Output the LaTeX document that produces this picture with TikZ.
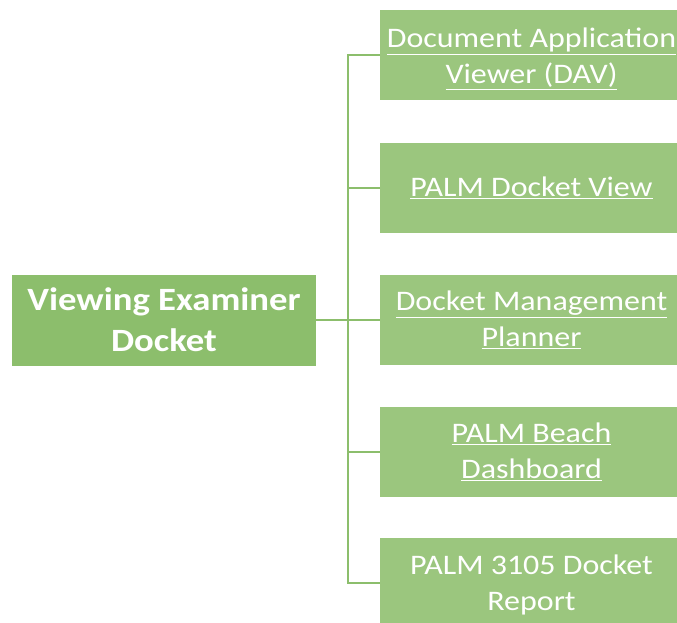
\documentclass[tikz,border=0pt]{standalone}
\usepackage{fontspec}
\setmainfont{Carlito}
\newfontfamily\widefont[FakeStretch=1.13]{Carlito}
\begin{document}
\begin{tikzpicture}[x=1pt,y=-1pt,
  leftbox/.style={fill=leftgreen, draw=none, minimum width=304pt, minimum height=91pt, inner sep=0pt, text=white, font=\widefont\fontsize{32.5}{41}\selectfont\bfseries, align=center},
  rightbox/.style={fill=rightgreen, draw=none, minimum width=303pt, minimum height=90pt, inner sep=0pt, text=white, font=\widefont\fontsize{28.3}{36}\selectfont, align=center},
  conn/.style={draw=linegreen, line width=2pt}]
\definecolor{leftgreen}{HTML}{8CBE6C}
\definecolor{rightgreen}{HTML}{9BC67E}
\definecolor{linegreen}{HTML}{8CBE6C}
\useasboundingbox (0,0) rectangle (677,623);
\node[leftbox] (root) at (164,320) {Viewing Examiner\\Docket};
\node[rightbox, label={[rightbox, fill=none, yshift=-4pt]center:\underline{Document Application}\\\underline{Viewer (DAV)}}] (a) at (531.5,55) {};
\node[rightbox] (b) at (531.5,188) {\underline{PALM Docket View}};
\node[rightbox] (c) at (531.5,320) {\underline{Docket Management}\\\underline{Planner}};
\node[rightbox] (d) at (531.5,452) {\underline{PALM Beach}\\\underline{Dashboard}};
\node[rightbox, label={[rightbox, fill=none, yshift=-2pt]center:PALM 3105 Docket\\Report}] (e) at (531.5,583) {};
\coordinate (j) at (348,320);
\draw[conn] (root.east) -- (j);
\draw[conn] (a.west) -| (j);
\draw[conn] (e.west) -| (j);
\foreach \n in {b,c,d} \draw[conn] (\n.west) -- (j |- \n.west);
\end{tikzpicture}
\end{document}
